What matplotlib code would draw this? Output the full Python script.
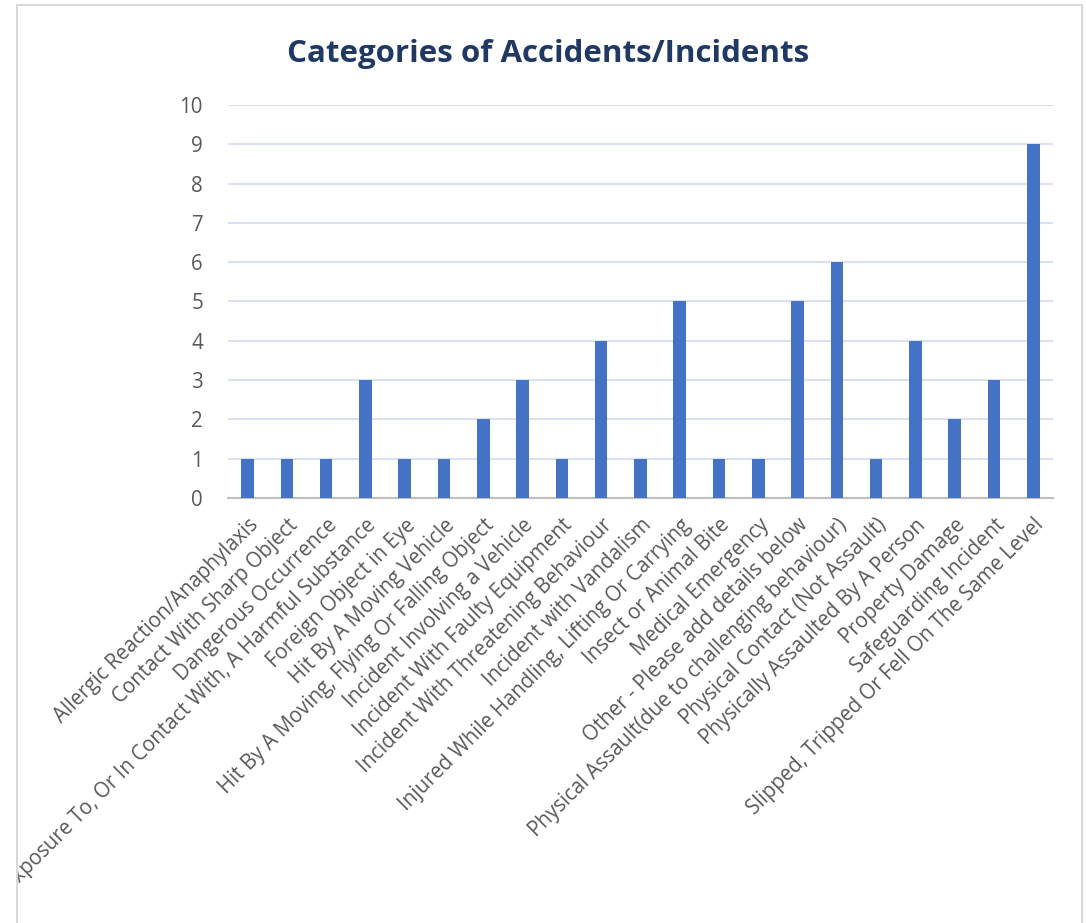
import matplotlib
matplotlib.use('Agg')
import matplotlib.pyplot as plt
from matplotlib.patches import Rectangle

plt.rcParams['font.family'] = ['Open Sans', 'DejaVu Sans']

# 데이터
categories = [
    'Allergic Reaction/Anaphylaxis',
    'Contact With Sharp Object',
    'Dangerous Occurrence',
    'Exposure To, Or In Contact With, A Harmful Substance',
    'Foreign Object in Eye',
    'Hit By A Moving Vehicle',
    'Hit By A Moving, Flying Or Falling Object',
    'Incident Involving a Vehicle',
    'Incident With Faulty Equipment',
    'Incident With Threatening Behaviour',
    'Incident with Vandalism',
    'Injured While Handling, Lifting Or Carrying',
    'Insect or Animal Bite',
    'Medical Emergency',
    'Other - Please add details below',
    'Physical Assault(due to challenging behaviour)',
    'Physical Contact (Not Assault)',
    'Physically Assaulted By A Person',
    'Property Damage',
    'Safeguarding Incident',
    'Slipped, Tripped Or Fell On The Same Level',
]
counts = [1, 1, 1, 3, 1, 1, 2, 3, 1, 4, 1, 5, 1, 1, 5, 6, 1, 4, 2, 3, 9]
y_ticks = list(range(0, 11))

fig = plt.figure(figsize=(10.86, 9.23), dpi=100)
ax = fig.add_axes([0.2099, 0.4605, 0.7597, 0.4257])

x = list(range(len(categories)))
ax.bar(x, counts, width=0.32, color='#4472C4', zorder=3)

ax.set_xlim(-0.5, len(categories) - 0.5)
ax.set_ylim(0, 10)
ax.set_yticks(y_ticks)
ax.grid(axis='y', color='#D9E1F2', linewidth=1.5, zorder=0)
for s in ['top', 'right', 'left']:
    ax.spines[s].set_visible(False)
ax.spines['bottom'].set_color('#BFBFBF')
ax.spines['bottom'].set_linewidth(1.5)
ax.tick_params(axis='both', length=0, colors='#595959', labelsize=14.8)
ax.tick_params(axis='y', pad=18)
ax.tick_params(axis='x', pad=12)
ax.set_xticks(x)
ax.set_xticklabels(categories, rotation=45, ha='right', rotation_mode='anchor')

fig.text(0.505, 0.942, 'Categories of Accidents/Incidents', ha='center', va='center',
         fontsize=22.5, fontweight='bold', color='#1F3864')

# 차트 테두리
border = Rectangle((0.0160, -0.01), 0.9803, 1.0046, transform=fig.transFigure,
                   fill=False, edgecolor='#D9D9D9', linewidth=1.5)
fig.patches.append(border)
for lbl in ax.get_xticklabels():
    lbl.set_clip_path(Rectangle((0.0165, -0.01), 0.98, 1.0, transform=fig.transFigure))

fig.savefig('out.png', dpi=100)
